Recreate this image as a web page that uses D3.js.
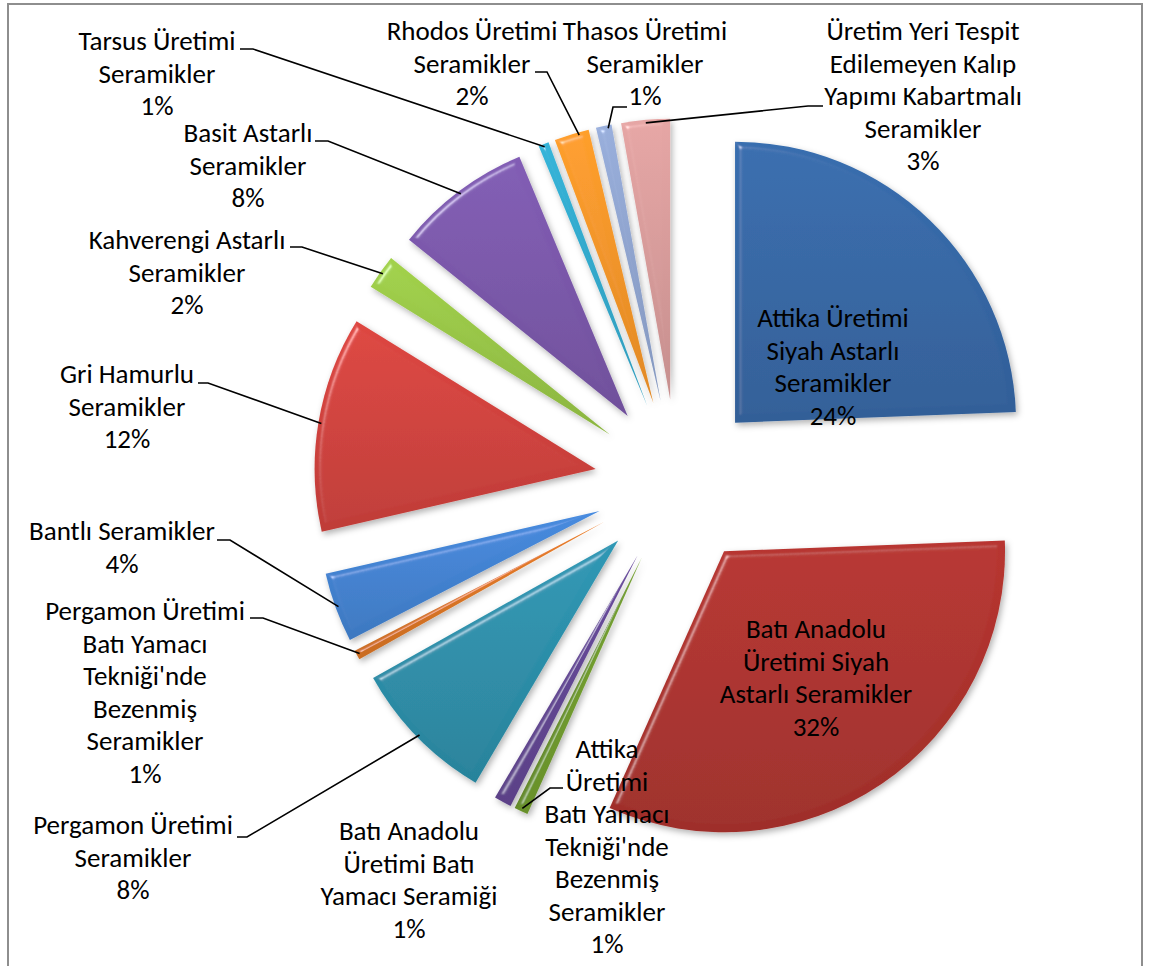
<!DOCTYPE html>
<html><head><meta charset="utf-8">
<script src="https://cdn.jsdelivr.net/npm/d3@7"></script>
<style>body{margin:0;background:#fff}svg{display:block}text{font-family:Carlito,Calibri,Lato,"Open Sans",sans-serif;fill:#000}</style>
</head><body>
<svg id="chart" width="1152" height="966"></svg>
<script>
// ---- data ----
const categories = [
 "Attika Üretimi Siyah Astarlı Seramikler",
 "Batı Anadolu Üretimi Siyah Astarlı Seramikler",
 "Attika Üretimi Batı Yamacı Tekniği'nde Bezenmiş Seramikler",
 "Batı Anadolu Üretimi Batı Yamacı Seramiği",
 "Pergamon Üretimi Seramikler",
 "Pergamon Üretimi Batı Yamacı Tekniği'nde Bezenmiş Seramikler",
 "Bantlı Seramikler",
 "Gri Hamurlu Seramikler",
 "Kahverengi Astarlı Seramikler",
 "Basit Astarlı Seramikler",
 "Tarsus Üretimi Seramikler",
 "Rhodos Üretimi Seramikler",
 "Thasos Üretimi Seramikler",
 "Üretim Yeri Tespit Edilemeyen Kalıp Yapımı Kabartmalı Seramikler"
];
const values = [24.4, 32.3, 0.8, 1.0, 8.4, 0.55, 4.0, 12.4, 2.0, 7.9, 0.6, 2.0, 0.9, 2.8];
const colors = ["#3669a8","#b0332e","#74a030","#654896","#2d92ad","#e07826","#4485d6","#d5433e","#9bc948","#7d59ad","#33acd0","#fa982a","#93a8d3","#dc9f9e"];

// ---- layout (manual label placement as in the original) ----
const wraps = [[2,2,1],[2,2,2],[1,1,2,1,1,1],[2,2,2],[2,1],[2,2,1,1,1],[2],[2,1],[2,1],[2,1],[2,1],[2,1],[2,1],[3,2,2,1]];
const labelPos = [[833,327],[816,638],[607,758],[409,840],[133,834],[145,620],[122,540],[127,383],[187,249],[248,142],[157,50],[472,40],[645,40],[923,40]];
const stubs = [null,null,[563,550,788],null,[237,247,837],[250,263,618],[217,230,540],[198,208,383],[290,302,247],[315,328,141],[240,253,49],[535,547,72],[627,613,107],[823,808,106]];
const leaderShift = [0,0,0,0,0,0,0,0,0,0,0,0.4,0.5,0]; // fraction of half-slice toward the slice end
const cx = 677.5, cy = 482.5, R = 281, explode = 83, lineH = 32.5;

const svg = d3.select("#chart");
const defs = svg.append("defs");

// bevel + shadow filter
const f = defs.append("filter").attr("id","bevel").attr("x","-20%").attr("y","-20%").attr("width","140%").attr("height","140%");
f.append("feGaussianBlur").attr("in","SourceAlpha").attr("stdDeviation",3).attr("result","blur");
const sp = f.append("feSpecularLighting").attr("in","blur").attr("surfaceScale",5).attr("specularConstant",0.9)
  .attr("specularExponent",45).attr("lighting-color","#ffffff").attr("result","spec");
sp.append("feDistantLight").attr("azimuth",225).attr("elevation",40);
f.append("feComposite").attr("in","spec").attr("in2","SourceAlpha").attr("operator","in").attr("result","specIn");
f.append("feComposite").attr("in","SourceGraphic").attr("in2","specIn").attr("operator","arithmetic")
  .attr("k1",0).attr("k2",1).attr("k3",0.45).attr("k4",0).attr("result","lit");
f.append("feOffset").attr("in","SourceAlpha").attr("dx",2).attr("dy",3).attr("result","off");
f.append("feGaussianBlur").attr("in","off").attr("stdDeviation",3).attr("result","sh");
f.append("feFlood").attr("flood-color","#000").attr("flood-opacity",0.3).attr("result","fl");
f.append("feComposite").attr("in","fl").attr("in2","sh").attr("operator","in").attr("result","shadow");
const mg = f.append("feMerge");
mg.append("feMergeNode").attr("in","shadow");
mg.append("feMergeNode").attr("in","lit");

colors.forEach((c,i)=>{
  const g = defs.append("linearGradient").attr("id","g"+i).attr("x1",0).attr("y1",0).attr("x2",0).attr("y2",1);
  g.append("stop").attr("offset","0%").attr("stop-color", d3.color(c).brighter(0.12));
  g.append("stop").attr("offset","100%").attr("stop-color", d3.color(c).darker(0.3));
});

// frame
svg.append("rect").attr("x",8).attr("y",4).attr("width",1134).attr("height",970)
  .attr("fill","#fff").attr("stroke","#8e8e8e").attr("stroke-width",2);

const total = d3.sum(values);
const pie = d3.pie().sort(null).value(d=>d)(values);
const arc = d3.arc().innerRadius(0).outerRadius(R);
const mid = d => (d.startAngle + d.endAngle)/2;
const off = d => [cx + explode*Math.sin(mid(d)), cy - explode*Math.cos(mid(d))];

svg.append("g").selectAll("path").data(pie).join("path")
  .attr("d", arc)
  .attr("transform", d => `translate(${off(d)})`)
  .attr("fill", (d,i)=>`url(#g${i})`)
  .attr("filter","url(#bevel)");

// font fit: match original label width
const probe = svg.append("text").attr("font-size",100).text("Tarsus Üretimi");
const fs = 100*157/probe.node().getComputedTextLength();
probe.remove();

// leaders
const lg = svg.append("g").attr("fill","none").attr("stroke","#000").attr("stroke-width",1.6);
pie.forEach((d,i)=>{
  const s = stubs[i]; if(!s) return;
  const o = off(d), a = mid(d) + leaderShift[i]*(d.endAngle - d.startAngle)/2, rr = R-3;
  const px = o[0] + rr*Math.sin(a), py = o[1] - rr*Math.cos(a);
  lg.append("polyline").attr("points", `${s[0]},${s[2]} ${s[1]},${s[2]} ${px},${py}`);
});

// labels
const tg = svg.append("g").attr("text-anchor","middle").attr("font-size",fs);
pie.forEach((d,i)=>{
  const words = categories[i].split(" ");
  const lines = []; let k = 0;
  wraps[i].forEach(n=>{ lines.push(words.slice(k,k+n).join(" ")); k+=n; });
  lines.push(Math.round(values[i]/total*100) + "%");
  const t = tg.append("text").attr("x",labelPos[i][0]).attr("y",labelPos[i][1]);
  lines.forEach((l,j)=> t.append("tspan").attr("x",labelPos[i][0]).attr("dy", j?lineH:0).text(l));
});
</script>
</body></html>
